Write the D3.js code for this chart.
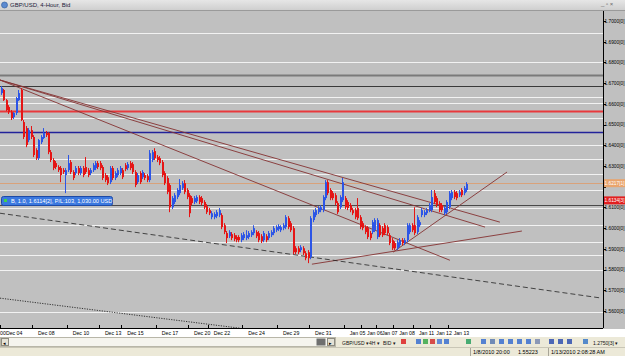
<!DOCTYPE html>
<html>
<head>
<meta charset="utf-8">
<script src="https://cdn.jsdelivr.net/npm/d3@7"></script>
<style>
  body { margin: 0; background: #c0c0c0; }
  text { font-family: "Liberation Sans", Arial, sans-serif; }
</style>
</head>
<body>
<svg id="chart" width="625" height="356"></svg>
<script>
// GBP/USD 4-hour candles, Dec 03 2009 .. Jan 13 2010
const openP = [1.6652,1.6667,1.6618,1.6585,1.6560,1.6536,1.6556,1.6618,1.6667,1.6512,
  1.6483,1.6425,1.6473,1.6440,1.6377,1.6338,1.6415,1.6435,1.6459,1.6459,
  1.6367,1.6329,1.6314,1.6295,1.6290,1.6280,1.6256,1.6280,1.6319,1.6271,
  1.6266,1.6290,1.6266,1.6290,1.6295,1.6280,1.6266,1.6280,1.6290,1.6314,
  1.6314,1.6295,1.6256,1.6246,1.6222,1.6290,1.6242,1.6256,1.6266,1.6280,
  1.6304,1.6290,1.6314,1.6309,1.6271,1.6222,1.6266,1.6246,1.6256,1.6251,
  1.6232,1.6329,1.6372,1.6343,1.6338,1.6319,1.6266,1.6242,1.6208,1.6101,
  1.6126,1.6150,1.6169,1.6193,1.6217,1.6184,1.6159,1.6145,1.6126,1.6130,
  1.6150,1.6145,1.6126,1.6106,1.6087,1.6053,1.6053,1.6058,1.6063,1.6063,
  1.6014,1.5976,1.5961,1.5971,1.5966,1.5957,1.5957,1.5942,1.5952,1.5952,
  1.5957,1.5966,1.5976,1.5981,1.5976,1.5961,1.5942,1.5961,1.5952,1.5966,
  1.5976,1.5990,1.5995,1.5990,1.6000,1.6005,1.6048,1.6024,1.6000,1.5903,
  1.5903,1.5894,1.5903,1.5879,1.5884,1.5860,1.6039,1.6063,1.6077,1.6087,
  1.6087,1.6145,1.6222,1.6184,1.6169,1.6159,1.6121,1.6101,1.6135,1.6145,
  1.6126,1.6111,1.6087,1.6087,1.6097,1.6053,1.6024,1.6005,1.6000,1.5976,
  1.5981,1.5990,1.5957,1.6014,1.6000,1.6014,1.6005,1.5966,1.5942,1.5928,
  1.5903,1.5918,1.5942,1.5928,1.5942,1.5981,1.6014,1.6014,1.5981,1.6014,
  1.6063,1.6063,1.6072,1.6087,1.6087,1.6169,1.6145,1.6121,1.6111,1.6072,
  1.6077,1.6101,1.6145,1.6174,1.6169,1.6159,1.6184,1.6169,1.6184];
const closeP = [1.6676,1.6618,1.6570,1.6560,1.6531,1.6556,1.6628,1.6652,1.6522,1.6440,
  1.6401,1.6473,1.6440,1.6353,1.6338,1.6425,1.6440,1.6459,1.6449,1.6367,
  1.6329,1.6290,1.6295,1.6280,1.6256,1.6271,1.6280,1.6314,1.6271,1.6242,
  1.6290,1.6266,1.6290,1.6256,1.6271,1.6256,1.6280,1.6304,1.6314,1.6295,
  1.6290,1.6242,1.6232,1.6217,1.6290,1.6242,1.6266,1.6280,1.6290,1.6246,
  1.6285,1.6309,1.6290,1.6271,1.6208,1.6256,1.6222,1.6271,1.6242,1.6232,
  1.6362,1.6367,1.6338,1.6329,1.6314,1.6256,1.6217,1.6174,1.6101,1.6145,
  1.6159,1.6184,1.6208,1.6217,1.6174,1.6150,1.6072,1.6121,1.6145,1.6150,
  1.6126,1.6121,1.6101,1.6077,1.6072,1.6072,1.6068,1.6077,1.6087,1.6005,
  1.5981,1.5952,1.5981,1.5952,1.5947,1.5942,1.5942,1.5966,1.5971,1.5966,
  1.5976,1.5981,1.6000,1.5961,1.5942,1.5937,1.5976,1.5942,1.5976,1.5981,
  1.6000,1.6005,1.6010,1.6005,1.6014,1.6053,1.6005,1.5990,1.5884,1.5884,
  1.5884,1.5908,1.5879,1.5855,1.5855,1.6048,1.6077,1.6087,1.6097,1.6101,
  1.6150,1.6222,1.6169,1.6145,1.6145,1.6121,1.6077,1.6150,1.6222,1.6101,
  1.6097,1.6087,1.6072,1.6053,1.6048,1.6005,1.6000,1.5981,1.5957,1.5952,
  1.6029,1.6039,1.6039,1.5966,1.5966,1.5976,1.5976,1.5928,1.5903,1.5903,
  1.5932,1.5942,1.5928,1.5942,1.6014,1.6014,1.5990,1.5976,1.6053,1.6029,
  1.6087,1.6077,1.6087,1.6111,1.6150,1.6126,1.6111,1.6087,1.6087,1.6097,
  1.6126,1.6169,1.6174,1.6150,1.6145,1.6174,1.6159,1.6193,1.6213];
const highP = [1.6686,1.6672,1.6623,1.6594,1.6570,1.6560,1.6633,1.6667,1.6676,1.6522,
  1.6493,1.6483,1.6493,1.6449,1.6386,1.6430,1.6449,1.6483,1.6469,1.6464,
  1.6377,1.6338,1.6324,1.6304,1.6300,1.6290,1.6290,1.6353,1.6329,1.6280,
  1.6300,1.6300,1.6300,1.6300,1.6343,1.6290,1.6290,1.6314,1.6324,1.6324,
  1.6324,1.6304,1.6266,1.6256,1.6300,1.6300,1.6275,1.6290,1.6300,1.6290,
  1.6314,1.6319,1.6324,1.6319,1.6280,1.6266,1.6275,1.6280,1.6266,1.6261,
  1.6377,1.6377,1.6386,1.6353,1.6348,1.6329,1.6275,1.6251,1.6217,1.6155,
  1.6169,1.6193,1.6237,1.6227,1.6232,1.6193,1.6169,1.6155,1.6155,1.6159,
  1.6159,1.6155,1.6135,1.6116,1.6097,1.6082,1.6077,1.6087,1.6097,1.6072,
  1.6024,1.5986,1.5990,1.5981,1.5976,1.5966,1.5966,1.5976,1.5981,1.5990,
  1.5986,1.5990,1.6014,1.5990,1.5986,1.5971,1.5986,1.5971,1.5986,1.5990,
  1.6010,1.6014,1.6019,1.6014,1.6024,1.6063,1.6058,1.6034,1.6010,1.5913,
  1.5913,1.5918,1.5913,1.5889,1.5894,1.6058,1.6087,1.6097,1.6106,1.6111,
  1.6159,1.6232,1.6232,1.6193,1.6179,1.6169,1.6130,1.6159,1.6242,1.6155,
  1.6135,1.6121,1.6097,1.6097,1.6145,1.6063,1.6034,1.6014,1.6010,1.5986,
  1.6039,1.6048,1.6048,1.6024,1.6010,1.6024,1.6014,1.5976,1.5952,1.5937,
  1.5942,1.5952,1.5952,1.5952,1.6024,1.6024,1.6024,1.6101,1.6063,1.6039,
  1.6097,1.6087,1.6097,1.6121,1.6184,1.6184,1.6155,1.6130,1.6121,1.6106,
  1.6135,1.6179,1.6184,1.6184,1.6179,1.6184,1.6193,1.6203,1.6222];
const lowP = [1.6643,1.6614,1.6565,1.6551,1.6522,1.6527,1.6546,1.6614,1.6517,1.6430,
  1.6391,1.6415,1.6430,1.6343,1.6329,1.6329,1.6406,1.6430,1.6440,1.6357,
  1.6319,1.6280,1.6285,1.6271,1.6222,1.6261,1.6169,1.6271,1.6261,1.6232,
  1.6256,1.6256,1.6256,1.6246,1.6261,1.6246,1.6256,1.6271,1.6280,1.6285,
  1.6280,1.6232,1.6222,1.6208,1.6213,1.6232,1.6232,1.6246,1.6256,1.6237,
  1.6275,1.6280,1.6280,1.6261,1.6198,1.6213,1.6213,1.6237,1.6232,1.6222,
  1.6222,1.6319,1.6329,1.6319,1.6304,1.6246,1.6208,1.6164,1.6077,1.6092,
  1.6116,1.6140,1.6159,1.6184,1.6164,1.6140,1.6053,1.6111,1.6116,1.6121,
  1.6116,1.6111,1.6092,1.6068,1.6063,1.6043,1.6043,1.6048,1.6053,1.5995,
  1.5971,1.5928,1.5952,1.5942,1.5937,1.5932,1.5932,1.5932,1.5942,1.5942,
  1.5947,1.5957,1.5966,1.5952,1.5932,1.5928,1.5932,1.5932,1.5942,1.5957,
  1.5966,1.5981,1.5986,1.5981,1.5990,1.5995,1.5995,1.5981,1.5874,1.5874,
  1.5874,1.5884,1.5870,1.5845,1.5831,1.5850,1.6029,1.6053,1.6068,1.6077,
  1.6077,1.6135,1.6159,1.6135,1.6135,1.6111,1.6068,1.6092,1.6126,1.6092,
  1.6087,1.6077,1.6063,1.6043,1.6039,1.5995,1.5990,1.5971,1.5947,1.5942,
  1.5971,1.5981,1.5947,1.5957,1.5957,1.5966,1.5966,1.5918,1.5894,1.5894,
  1.5894,1.5908,1.5918,1.5918,1.5932,1.5971,1.5981,1.5966,1.5971,1.6005,
  1.6053,1.6053,1.6063,1.6077,1.6077,1.6116,1.6101,1.6077,1.6077,1.6063,
  1.6068,1.6092,1.6135,1.6140,1.6135,1.6150,1.6150,1.6159,1.6174];

// price axis
const priceTicks = [1.70,1.69,1.68,1.67,1.66,1.65,1.64,1.63,1.62,1.61,1.60,1.59,1.58,1.57,1.56];

// time axis: label and candle index where it sits
const dayLabels = ["Dec 04","Dec 08","Dec 10","Dec 13","Dec 15","Dec 17","Dec 20","Dec 22","Dec 24",
  "Dec 29","Dec 31","Jan 05","Jan 06","Jan 07","Jan 08","Jan 11","Jan 12","Jan 13"];
const dayIndex = [2,15,29,42,51,65,78,86,100,114,127,141,148,154,161,169,176,183];

// light horizontal lines drawn on the chart
const whiteLevels = [1.6942,1.6802,1.6633,1.6604,1.6531,1.6401,1.6333,1.6261,1.6184,1.6097,
  1.6014,1.5932,1.5870,1.5797,1.5594];
// coloured horizontal lines: gray, black, red, blue, bid, order
const hLevels = [1.6739,1.6686,1.6565,1.6464,1.6217,1.6114];
const hColors = ["#7a7a7a","#3a3a3a","#e8393c","#22229a","#d9a27a","#4a4a4a"];
const hWidths = [2,1,2,1.6,1,1];

// price tags on the axis: bid, order
const tagPrices = [1.6217,1.6134];
const tagTexts = ["1.6217[1]","1.6134[3]"];
const tagColors = ["#e9a46d","#e11f1f"];

// trend lines [startIndex, startPrice, endIndex, endPrice]
const trendLines = [
  [-0.4,1.6715,201.7,1.6029],
  [-0.4,1.6715,195.7,1.6005],
  [-0.4,1.6715,181.5,1.5845],
  [125.7,1.5826,210.6,1.5986],
  [158.5,1.5884,204.6,1.6271]
];
const dashedLine = [-0.4,1.6072,243.0,1.5662];
const dottedLine = [-0.4,1.5662,96.6,1.5517];

const orderText = "B, 1.0, 1.6114[2], P/L:103, 1,030.00 USD";

const svg = d3.select("#chart");
const plotR = 603, plotT = 11, plotB = 328;

const x = d3.scaleLinear().domain([0, openP.length - 1]).range([1, 466]);
const y = d3.scaleLinear().domain([1.56, 1.70]).range([311, 21]);

// background
svg.append("rect").attr("width", 625).attr("height", 356).attr("fill", "#c0c0c0");

svg.append("defs").append("clipPath").attr("id", "plotclip")
  .append("rect").attr("x", 0).attr("y", plotT).attr("width", plotR).attr("height", plotB - plotT);

const plot = svg.append("g").attr("clip-path", "url(#plotclip)");

// white levels
plot.selectAll(".wl").data(whiteLevels).join("line")
  .attr("x1", 0).attr("x2", plotR)
  .attr("y1", d => Math.round(y(d)) + 0.5).attr("y2", d => Math.round(y(d)) + 0.5)
  .attr("stroke", "#f2f2f2").attr("stroke-width", 1);

// coloured levels
plot.selectAll(".hl").data(hLevels).join("line")
  .attr("x1", 0).attr("x2", plotR)
  .attr("y1", d => Math.round(y(d)) + 0.5).attr("y2", d => Math.round(y(d)) + 0.5)
  .attr("stroke", (d, i) => hColors[i]).attr("stroke-width", (d, i) => hWidths[i]);

// trend lines
plot.selectAll(".tl").data(trendLines).join("line")
  .attr("x1", d => x(d[0])).attr("y1", d => y(d[1]))
  .attr("x2", d => x(d[2])).attr("y2", d => y(d[3]))
  .attr("stroke", "#853232").attr("stroke-width", 0.9);

plot.append("line")
  .attr("x1", x(dashedLine[0])).attr("y1", y(dashedLine[1]))
  .attr("x2", x(dashedLine[2])).attr("y2", y(dashedLine[3]))
  .attr("stroke", "#222").attr("stroke-width", 0.8).attr("stroke-dasharray", "5,3");
plot.append("line")
  .attr("x1", x(dottedLine[0])).attr("y1", y(dottedLine[1]))
  .attr("x2", x(dottedLine[2])).attr("y2", y(dottedLine[3]))
  .attr("stroke", "#222").attr("stroke-width", 0.9).attr("stroke-dasharray", "1.2,1.3");

// candles
const candles = openP.map((o, i) => ({ i, o, c: closeP[i], h: highP[i], l: lowP[i] }));
const col = d => d.c >= d.o ? "#2c55e6" : "#e51515";
const cg = plot.append("g");
cg.selectAll(".wick").data(candles).join("line")
  .attr("x1", d => Math.round(x(d.i)) + 0.5).attr("x2", d => Math.round(x(d.i)) + 0.5)
  .attr("y1", d => y(d.h)).attr("y2", d => y(d.l))
  .attr("stroke", col).attr("stroke-width", 1);
cg.selectAll(".body").data(candles).join("rect")
  .attr("x", d => Math.round(x(d.i)))
  .attr("y", d => y(Math.max(d.o, d.c)))
  .attr("width", 2)
  .attr("height", d => Math.max(1, Math.abs(y(d.o) - y(d.c))))
  .attr("fill", col);

// order label
const oy = Math.round(y(hLevels[5]));
const og = svg.append("g");
og.append("rect").attr("x", 1.5).attr("y", oy - 8.5).attr("width", 111).attr("height", 9)
  .attr("rx", 2).attr("fill", "#3b78df").attr("stroke", "#1d4aa6");
og.append("rect").attr("x", 4).attr("y", oy - 6).attr("width", 3).attr("height", 3).attr("fill", "#3fd24a");
og.append("text").attr("x", 11).attr("y", oy - 2).attr("font-size", 5.6).attr("fill", "#fff").text(orderText);

// price axis (labels hidden under a price tag are not drawn, as in the terminal)
svg.append("line").attr("x1", plotR + 0.5).attr("x2", plotR + 0.5).attr("y1", plotT).attr("y2", plotB)
  .attr("stroke", "#000");
const ya = svg.append("g");
const freeTicks = priceTicks.filter(p => tagPrices.every(t => Math.abs(y(p) - y(t)) > 6));
ya.selectAll("line").data(priceTicks).join("line")
  .attr("x1", plotR).attr("x2", plotR + 3)
  .attr("y1", d => Math.round(y(d)) + 0.5).attr("y2", d => Math.round(y(d)) + 0.5).attr("stroke", "#000");
ya.selectAll("text").data(freeTicks).join("text")
  .attr("x", plotR + 1.5).attr("y", d => y(d) + 1.8)
  .attr("font-size", 4.8).attr("fill", "#000")
  .text(d => d.toFixed(4) + "[0]");

tagPrices.forEach((p, i) => {
  ya.append("rect").attr("x", plotR + 1).attr("y", y(p) - 4).attr("width", 22).attr("height", 8).attr("fill", tagColors[i]);
  ya.append("text").attr("x", plotR + 1.5).attr("y", y(p) + 1.8).attr("font-size", 4.8).attr("fill", "#fff")
    .text(tagTexts[i]);
});

// time axis
svg.append("rect").attr("x", 0).attr("y", plotB + 1).attr("width", 625).attr("height", 8).attr("fill", "#fff");
svg.append("line").attr("x1", 0).attr("x2", plotR).attr("y1", plotB + 0.5).attr("y2", plotB + 0.5).attr("stroke", "#000");
const xa = svg.append("g");
xa.selectAll("line").data(dayIndex).join("line")
  .attr("x1", d => Math.round(x(d)) - 5.5).attr("x2", d => Math.round(x(d)) - 5.5)
  .attr("y1", plotB - 3).attr("y2", plotB).attr("stroke", "#000");
xa.selectAll("text").data(dayLabels).join("text")
  .attr("x", (d, i) => x(dayIndex[i])).attr("y", plotB + 7)
  .attr("font-size", 5.2).attr("fill", "#000").text(d => d);
xa.append("text").attr("x", 0).attr("y", plotB + 7).attr("font-size", 5.2).text("00");

// title bar
const tb = svg.append("g");
const grad = svg.select("defs").append("linearGradient").attr("id", "tbg").attr("x1", 0).attr("x2", 0).attr("y1", 0).attr("y2", 1);
grad.append("stop").attr("offset", 0).attr("stop-color", "#e6e6e6");
grad.append("stop").attr("offset", 1).attr("stop-color", "#cfcfcf");
tb.append("rect").attr("width", 625).attr("height", 10).attr("fill", "url(#tbg)");
tb.append("line").attr("x1", 0).attr("x2", 625).attr("y1", 10.5).attr("y2", 10.5).attr("stroke", "#9a9a9a");
tb.append("circle").attr("cx", 4.5).attr("cy", 5).attr("r", 3).attr("fill", "#5b8ad0").attr("stroke", "#2c5a9a").attr("stroke-width", 0.6);
tb.append("text").attr("x", 10).attr("y", 7.3).attr("font-size", 6).attr("fill", "#1a1a3a").text("GBP/USD, 4-Hour, Bid");
tb.append("text").attr("x", 601).attr("y", 6).attr("font-size", 6).attr("fill", "#666").text("_  ▫  ×");

// scroll bar / toolbar
const sb = svg.append("g");
sb.append("rect").attr("x", 0).attr("y", 337).attr("width", 625).attr("height", 19).attr("fill", "#ece9d8");
sb.append("rect").attr("x", 0.5).attr("y", 337.5).attr("width", 335).attr("height", 9).attr("fill", "#f5f4ee").attr("stroke", "#b8b6a8");
sb.append("rect").attr("x", 1.5).attr("y", 338.5).attr("width", 7).attr("height", 7).attr("fill", "#e4e2d6").attr("stroke", "#8d8b80");
sb.append("text").attr("x", 3).attr("y", 344.5).attr("font-size", 5).text("◂");
sb.append("rect").attr("x", 316.5).attr("y", 338.5).attr("width", 9).attr("height", 7).attr("fill", "#6f6f6f");
sb.append("rect").attr("x", 327.5).attr("y", 338.5).attr("width", 7).attr("height", 7).attr("fill", "#e4e2d6").attr("stroke", "#8d8b80");
sb.append("text").attr("x", 329).attr("y", 344.5).attr("font-size", 5).text("▸");

const tools = [["GBP/USD ▾", 342], ["4H ▾", 369], ["BID ▾", 383], ["1.2750[3] ▾", 593]];
tools.forEach(t => sb.append("text").attr("x", t[1]).attr("y", 344.5).attr("font-size", 5).attr("fill", "#111").text(t[0]));
const icons = [[401, "#d22"], [416, "#3a6fd0"], [423, "#3aa84a"], [430, "#d23030"], [437, "#4a7ad8"], [444, "#3a6fd0"],
  [466, "#2aa060"], [481, "#3a6fd0"], [490, "#5a7ab0"], [499, "#3a6fd0"], [508, "#3a6fd0"], [517, "#3a6fd0"], [526, "#3a6fd0"],
  [535, "#7a8ab0"], [549, "#3050b0"], [558, "#3050b0"], [567, "#3050b0"], [583, "#3a78c8"]];
icons.forEach(t => sb.append("rect").attr("x", t[0]).attr("y", 339).attr("width", 5).attr("height", 5).attr("fill", t[1]).attr("opacity", 0.85));

// status bar
sb.append("line").attr("x1", 0).attr("x2", 625).attr("y1", 347.5).attr("y2", 347.5).attr("stroke", "#c9c6b6");
[470, 548].forEach(p => sb.append("line").attr("x1", p + 0.5).attr("x2", p + 0.5).attr("y1", 348).attr("y2", 356).attr("stroke", "#a8a598"));
sb.append("text").attr("x", 473).attr("y", 354).attr("font-size", 5.5).text("1/8/2010 20:00");
sb.append("text").attr("x", 518).attr("y", 354).attr("font-size", 5.5).text("1.55223");
sb.append("text").attr("x", 551).attr("y", 354).attr("font-size", 5.5).text("1/13/2010 2:08:28 AM");
</script>
</body>
</html>
